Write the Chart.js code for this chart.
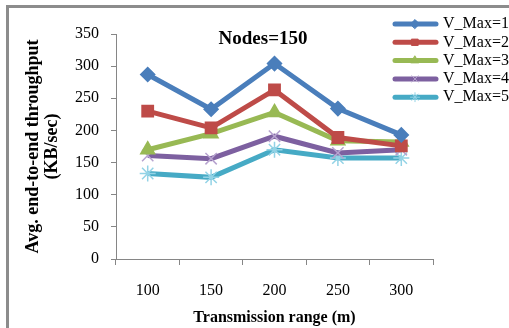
<!DOCTYPE html>
<html>
<head>
<meta charset="utf-8">
<script src="https://cdn.jsdelivr.net/npm/chart.js@4.4.0/dist/chart.umd.min.js"></script>
<style>
    body { margin: 0; background: #fff; overflow: hidden; }
    #frame { position: absolute; left: 6px; top: 5px; width: 700px; height: 500px; border: 3px solid #8c8c8c; }
    #wrap { position: absolute; left: 0; top: 0; width: 509px; height: 328px; }
</style>
</head>
<body>
<div id="frame"></div>
<div id="wrap"><canvas id="chart" width="509" height="328"></canvas></div>
<script>
// transmission range (m)
const ranges = ['100', '150', '200', '250', '300'];
const seriesNames = ['V_Max=1', 'V_Max=2', 'V_Max=3', 'V_Max=4', 'V_Max=5'];
const vmax1 = [287, 233, 304, 234, 193];
const vmax2 = [230, 204, 263, 189, 176];
const vmax3 = [170, 195, 228, 184, 182];
const vmax4 = [161, 156, 191, 165, 170];
const vmax5 = [133, 127, 170, 157, 157];
const yTicks = [0, 50, 100, 150, 200, 250, 300, 350];

const serif = "'Liberation Serif', 'Times New Roman', serif";

function series(label, data, color, style, radius, pointColor, pointBorder) {
    return {
        label: label,
        data: data,
        borderColor: color,
        backgroundColor: pointColor,
        borderWidth: 5,
        pointStyle: style,
        pointRadius: radius,
        pointBorderColor: pointBorder,
        pointBackgroundColor: pointColor,
        pointBorderWidth: 1.5,
        tension: 0
    };
}

// legend on the right, drawn by hand so the marker sits on the line
const sideLegend = {
    id: 'sideLegend',
    afterDraw(chart) {
        const ctx = chart.ctx;
        ctx.save();
        // chart title
        ctx.font = 'bold 19px ' + serif;
        ctx.fillStyle = '#000';
        ctx.textAlign = 'center';
        ctx.textBaseline = 'middle';
        ctx.fillText('Nodes=150', 263, 39);

        chart.data.datasets.forEach(function (ds, i) {
            const y = 24 + i * 18.3;
            ctx.strokeStyle = ds.borderColor;
            ctx.lineWidth = 5;
            ctx.lineCap = 'round';
            ctx.beginPath();
            ctx.moveTo(395, y);
            ctx.lineTo(436, y);
            ctx.stroke();
            ctx.fillStyle = ds.pointBackgroundColor;
            ctx.strokeStyle = ds.pointBorderColor;
            ctx.lineWidth = 1;
            Chart.helpers.drawPoint(ctx, {
                pointStyle: ds.pointStyle,
                radius: 4.5,
                borderWidth: 1
            }, 415, y);
            ctx.font = '16px ' + serif;
            ctx.fillStyle = '#000';
            ctx.textAlign = 'left';
            ctx.fillText(ds.label, 443, y);
        });
        ctx.restore();
    }
};

const ctx = document.getElementById('chart').getContext('2d');
const chart = new Chart(ctx, {
    type: 'line',
    data: {
        labels: ranges,
        datasets: [
            series(seriesNames[0], vmax1, '#4a7ebb', 'rectRot', 7, '#4a7ebb', '#4a7ebb'),
            series(seriesNames[1], vmax2, '#be4b48', 'rect', 8, '#be4b48', '#be4b48'),
            series(seriesNames[2], vmax3, '#98b954', 'triangle', 8, '#98b954', '#98b954'),
            series(seriesNames[3], vmax4, '#7d60a0', 'crossRot', 8, '#7d60a0', '#b7a3cf'),
            series(seriesNames[4], vmax5, '#46aac5', 'star', 8, '#46aac5', '#93d3e6')
        ]
    },
    options: {
        responsive: false,
        animation: false,
        layout: { padding: { left: 0, top: 34, right: 76, bottom: 0 } },
        plugins: {
            legend: { display: false },
            tooltip: { enabled: false }
        },
        scales: {
            x: {
                offset: true,
                grid: { offset: true, drawOnChartArea: false, tickLength: 6, color: '#868686' },
                border: { color: '#868686', width: 1 },
                ticks: { padding: 16, color: '#000', font: { family: serif, size: 16 } },
                title: {
                    display: true,
                    text: 'Transmission range (m)',
                    color: '#000',
                    font: { family: serif, size: 16, weight: 'bold' },
                    padding: { top: 0, bottom: 1 }
                },
                afterFit: function (s) { s.height = 69; }
            },
            y: {
                min: 0,
                max: 350,
                afterBuildTicks: function (s) { s.ticks = yTicks.map(v => ({ value: v })); },
                grid: { drawOnChartArea: false, tickLength: 5, color: '#868686' },
                border: { color: '#868686', width: 1 },
                ticks: { padding: 12, color: '#000', font: { family: serif, size: 16 } },
                title: {
                    display: true,
                    text: ['Avg. end-to-end throughput', '(KB/sec)'],
                    color: '#000',
                    font: { family: serif, size: 18, weight: 'bold', lineHeight: '19px' },
                    padding: { top: 24, bottom: 0 }
                },
                afterFit: function (s) { s.width = 116; }
            }
        }
    },
    plugins: [sideLegend]
});
</script>
</body>
</html>
